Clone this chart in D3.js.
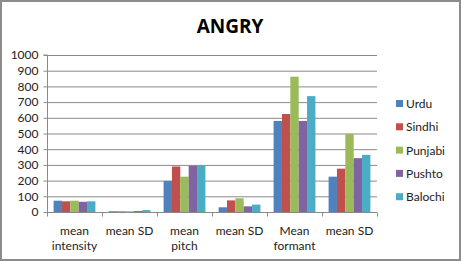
<!DOCTYPE html>
<html>
<head>
<meta charset="utf-8">
<script src="https://cdn.jsdelivr.net/npm/d3@7"></script>
<style>
	body { margin: 0; background: #fff; }
	svg { display: block; font-family: Lato, "Open Sans", sans-serif; }
</style>
</head>
<body>
<div id="chart"></div>
<script>
// values
const categories = ['mean intensity', 'mean SD', 'mean pitch', 'mean SD ', 'Mean formant', 'mean SD  '];
const categoryLabels = [['mean', 'intensity'], ['mean SD'], ['mean', 'pitch'], ['mean SD'], ['Mean', 'formant'], ['mean SD']];
const seriesNames = ['Urdu', 'Sindhi', 'Punjabi', 'Pushto', 'Balochi'];
const urdu = [72, 5, 198, 30, 580, 225];
const sindhi = [68, 4, 290, 74, 624, 276];
const punjabi = [72, 5, 225, 87, 862, 498];
const pushto = [65, 6, 295, 36, 580, 343];
const balochi = [68, 12, 297, 47, 738, 364];
const yTicks = [0, 100, 200, 300, 400, 500, 600, 700, 800, 900, 1000];
const colors = ['#4F81BD', '#C0504D', '#9BBB59', '#8064A2', '#4BACC6'];

const seriesValues = [urdu, sindhi, punjabi, pushto, balochi];

const width = 461, height = 261;
const plot = { left: 47, right: 377, top: 55, bottom: 212 };

const svg = d3.select('#chart').append('svg')
	.attr('width', width)
	.attr('height', height);

// outer frame
svg.append('rect')
	.attr('x', 1).attr('y', 1)
	.attr('width', width - 2).attr('height', height - 2)
	.attr('fill', '#fff')
	.attr('stroke', '#8c8c8c')
	.attr('stroke-width', 2);

svg.append('text')
	.attr('x', 230)
	.attr('y', 33)
	.attr('text-anchor', 'middle')
	.style('font-family', '"Open Sans", sans-serif')
	.style('font-weight', 'bold')
	.style('font-size', '19px')
	.text('ANGRY');

const x = d3.scaleBand()
	.domain(categories)
	.range([plot.left, plot.right])
	.paddingInner(0.24)
	.paddingOuter(0.12);

const xs = d3.scaleBand()
	.domain(seriesNames)
	.range([0, x.bandwidth()]);

const y = d3.scaleLinear()
	.domain([0, 1000])
	.range([plot.bottom, plot.top]);

// gridlines
svg.append('g')
	.selectAll('line')
	.data(yTicks.slice(1))
	.join('line')
		.attr('x1', plot.left)
		.attr('x2', plot.right)
		.attr('y1', d => y(d) + 0.5)
		.attr('y2', d => y(d) + 0.5)
		.attr('stroke', '#8a8a8a')
		.attr('stroke-width', 1);

// bars
const groups = svg.append('g')
	.selectAll('g')
	.data(seriesNames)
	.join('g')
		.attr('fill', (d, i) => colors[i]);

groups.selectAll('rect')
	.data((name, i) => seriesValues[i].map((v, j) => ({ name, cat: categories[j], v })))
	.join('rect')
		.attr('x', d => x(d.cat) + xs(d.name))
		.attr('width', xs.bandwidth())
		.attr('y', d => y(d.v))
		.attr('height', d => y(0) - y(d.v));

// y axis
const yAxis = svg.append('g')
	.attr('transform', `translate(${plot.left + 0.5},0)`)
	.call(d3.axisLeft(y).tickValues(yTicks).tickFormat(d3.format('d')).tickSize(4).tickPadding(5));
yAxis.select('.domain').attr('stroke', '#8a8a8a').attr('d', `M-4,${plot.top}H0V${plot.bottom}`);
yAxis.selectAll('.tick line').attr('stroke', '#8a8a8a');
yAxis.selectAll('.tick text').style('font-size', '12px').attr('fill', '#222').style('font-family', 'Lato, sans-serif');

// x axis
const step = (plot.right - plot.left) / categories.length;
const xAxis = svg.append('g')
	.attr('transform', `translate(0,${plot.bottom + 0.5})`);
xAxis.append('line')
	.attr('x1', plot.left).attr('x2', plot.right)
	.attr('stroke', '#8a8a8a');
xAxis.selectAll('line.tk')
	.data(d3.range(categories.length + 1))
	.join('line')
		.attr('class', 'tk')
		.attr('x1', i => plot.left + i * step + 0.5)
		.attr('x2', i => plot.left + i * step + 0.5)
		.attr('y1', 0).attr('y2', 4)
		.attr('stroke', '#8a8a8a');

xAxis.selectAll('text')
	.data(categories)
	.join('text')
		.attr('text-anchor', 'middle')
		.attr('fill', '#222')
		.style('font-size', '12px')
		.each(function(d, i) {
			const t = d3.select(this);
			categoryLabels[i].forEach((line, k) => {
				t.append('tspan')
					.attr('x', x(d) + x.bandwidth() / 2)
					.attr('y', 22 + k * 15)
					.text(line);
			});
		});

// legend
const legend = svg.append('g')
	.selectAll('g')
	.data(seriesNames)
	.join('g')
		.attr('transform', (d, i) => `translate(396,${104 + i * 23.3})`);
legend.append('rect')
	.attr('x', 0).attr('y', -4)
	.attr('width', 7).attr('height', 7)
	.attr('fill', (d, i) => colors[i]);
legend.append('text')
	.attr('x', 10)
	.attr('y', 4)
	.attr('fill', '#222')
	.style('font-size', '12px')
	.text(d => d);
</script>
</body>
</html>
